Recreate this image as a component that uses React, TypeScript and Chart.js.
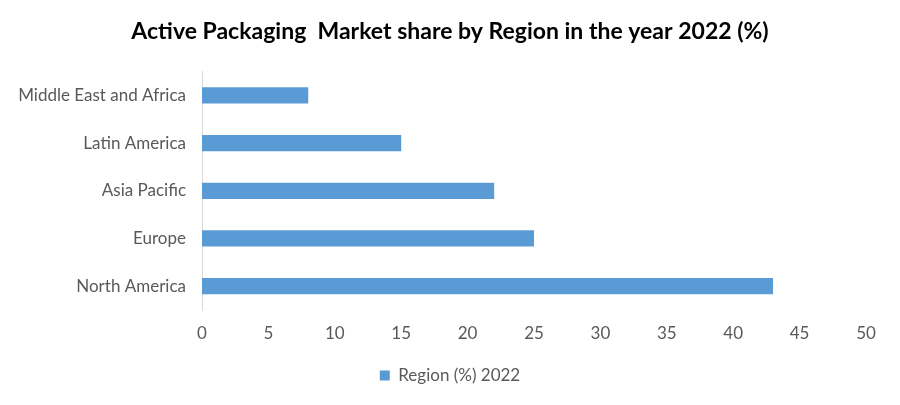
import React, { useEffect, useRef } from "react";
import { Chart, registerables } from "chart.js";

Chart.register(...registerables);

const categories = ["Middle East and Africa", "Latin America", "Asia Pacific", "Europe", "North America"];
const values = [8, 15, 22, 25, 43];
const seriesLabel = "Region (%) 2022";
const titleText = "Active Packaging  Market share by Region in the year 2022 (%)";

export default function App() {
  const ref = useRef<HTMLCanvasElement | null>(null);
  useEffect(() => {
    if (!ref.current) return;
    const font = "Lato, 'Open Sans', sans-serif";
    const chart = new Chart(ref.current, {
      type: "bar",
      data: {
        labels: categories,
        datasets: [
          {
            label: seriesLabel,
            data: values,
            backgroundColor: "#5b9bd5",
            borderWidth: 0,
            barPercentage: 0.68,
            categoryPercentage: 0.5,
          },
        ],
      },
      options: {
        indexAxis: "y",
        animation: false,
        responsive: false,
        maintainAspectRatio: false,
        layout: { padding: { left: 0, right: 0, top: 14, bottom: 11 } },
        plugins: {
          title: {
            display: true,
            text: titleText,
            color: "#000000",
            font: { family: font, size: 23, weight: "bold" },
            padding: { top: 4, bottom: 26 },
          },
          legend: {
            display: true,
            position: "bottom",
            labels: {
              color: "#595959",
              font: { family: font, size: 17 },
              boxWidth: 10,
              boxHeight: 10,
              padding: 10,
            },
          },
          tooltip: { enabled: false },
        },
        scales: {
          x: {
            min: 0,
            max: 50,
            ticks: { stepSize: 5, color: "#595959", font: { family: font, size: 17 }, padding: 13 },
            grid: { display: false, drawTicks: false },
            border: { display: false },
            afterFit: (s: any) => {
              s.height = 47;
            },
          },
          y: {
            ticks: { color: "#595959", font: { family: font, size: 17 }, padding: 16 },
            grid: { display: false, drawTicks: false },
            border: { display: true, color: "#d9d9d9", width: 1 },
            afterFit: (s: any) => {
              s.width = 202;
            },
          },
          yRight: {
            type: "category",
            position: "right",
            labels: categories,
            ticks: { display: false },
            grid: { display: false, drawTicks: false },
            border: { display: false },
            afterFit: (s: any) => {
              s.width = 34;
            },
          },
        },
      },
    });
    return () => chart.destroy();
  }, []);
  return (
    <div style={{ position: "fixed", left: 0, top: 0, width: 900, height: 405, background: "#fff" }}>
      <canvas ref={ref} width={900} height={405} />
    </div>
  );
}
